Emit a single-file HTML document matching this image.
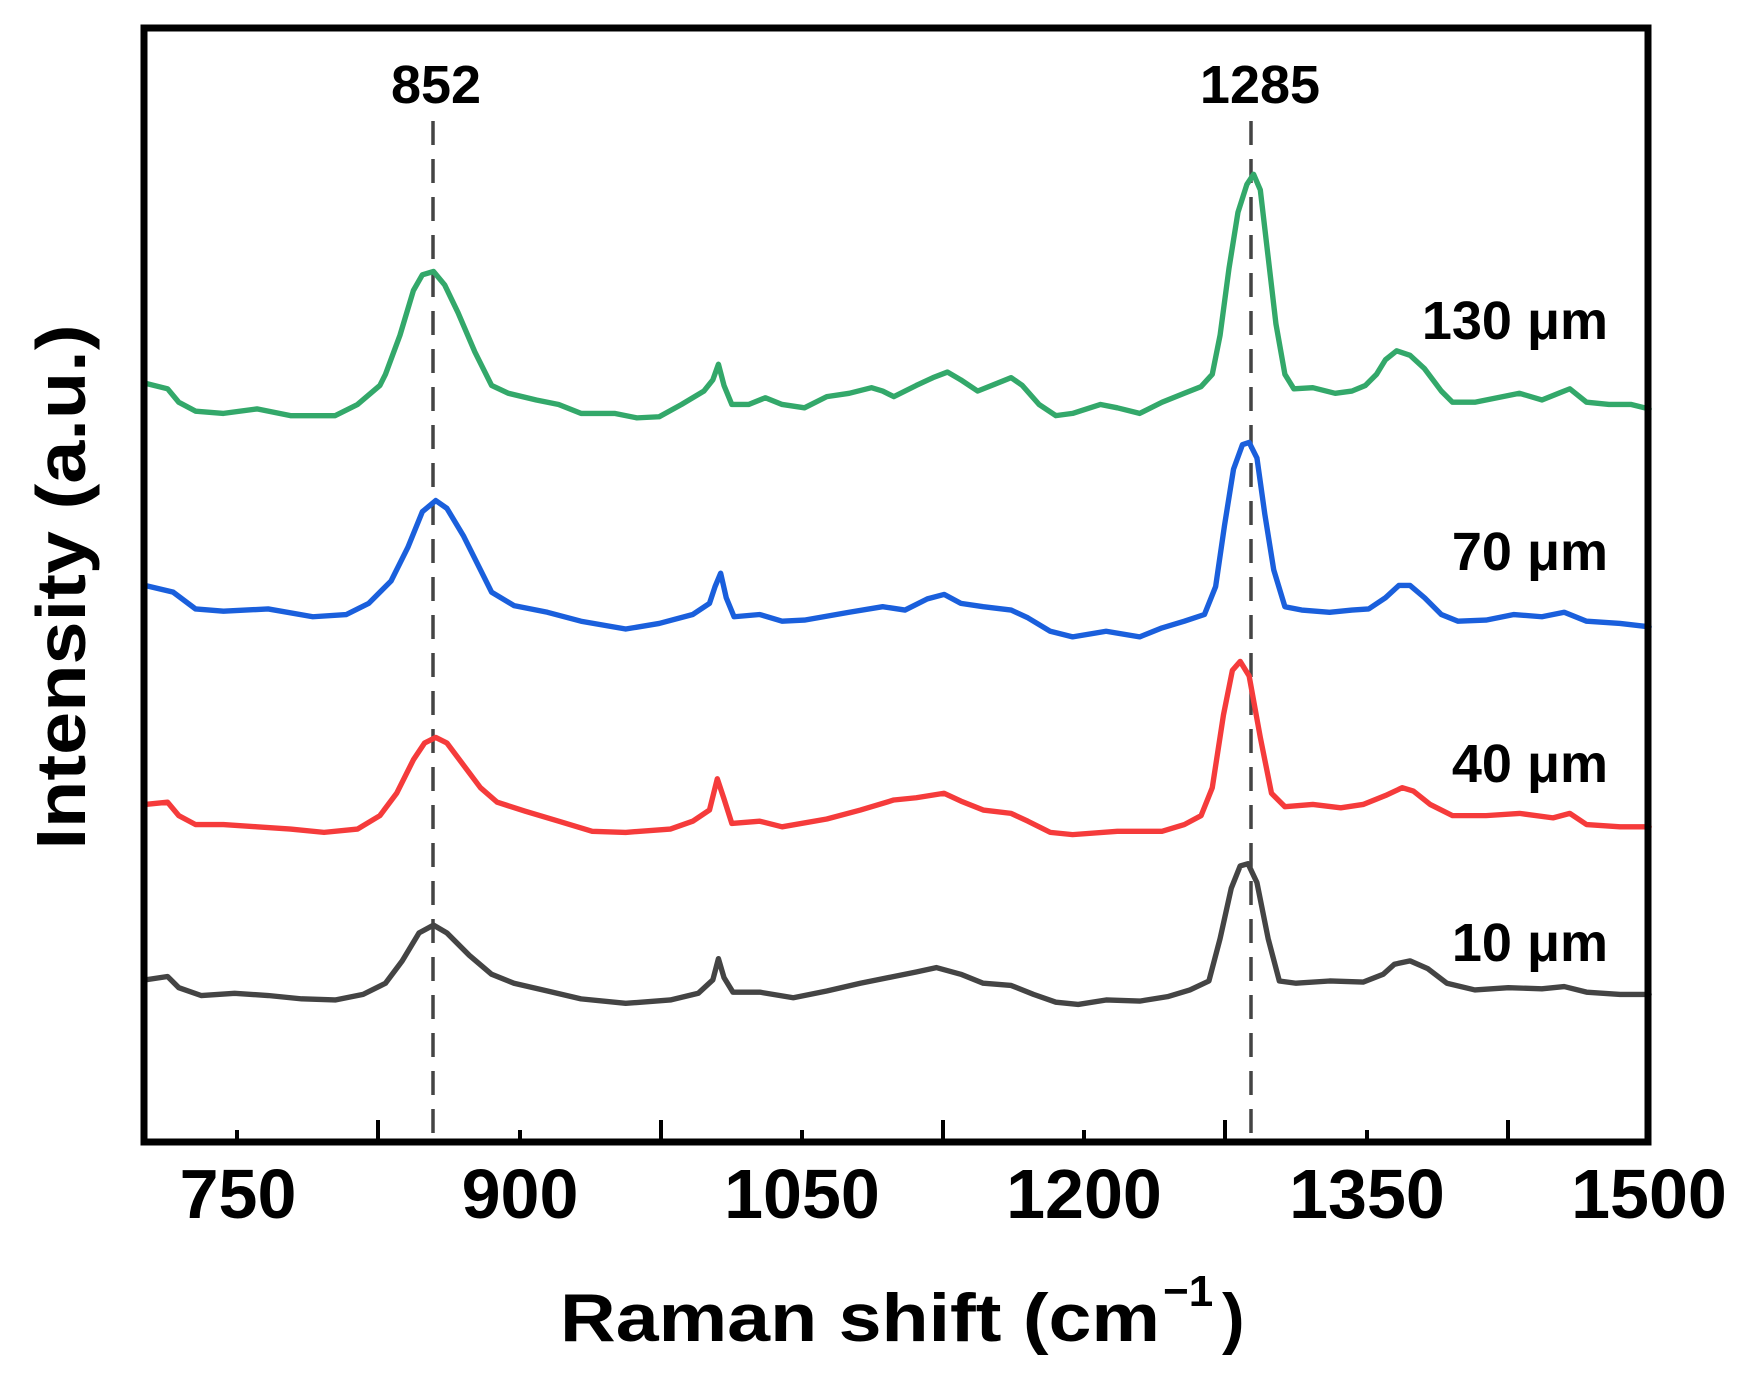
<!DOCTYPE html>
<html><head><meta charset="utf-8"><style>
html,body{margin:0;padding:0;background:#fff;}
svg{display:block;}
text{font-family:"Liberation Sans",Arial,sans-serif;font-weight:bold;fill:#000;}
</style></head><body>
<svg width="1752" height="1381" viewBox="0 0 1752 1381" xmlns="http://www.w3.org/2000/svg">
<rect width="1752" height="1381" fill="#fff"/>
<line x1="433" y1="121" x2="433" y2="1145" stroke="#444" stroke-width="3.5" stroke-dasharray="24,14"/>
<line x1="1251" y1="121" x2="1251" y2="1145" stroke="#444" stroke-width="3.5" stroke-dasharray="24,14"/>
<g transform="scale(1.1173)" fill="none" stroke-width="4.8" stroke-linejoin="round" stroke-linecap="round">
<polyline stroke="#33a86a" points="130,343 150,348 160,360 175,368 200,370 230,366 260,372 300,372 320,362 340,345 345,335 358,300 370,260 378,246 388,243 398,255 410,280 425,315 440,345 455,352 480,358 500,362 520,370 550,370 570,374 590,373 610,362 630,350 638,340 643,326 648,345 655,362 670,362 685,356 700,362 720,365 740,355 760,352 780,347 790,350 800,355 820,345 835,338 848,333 860,340 875,350 890,344 905,338 915,345 930,362 945,372 960,370 985,362 1000,365 1020,370 1040,360 1060,352 1075,346 1085,335 1092,300 1100,240 1108,190 1116,165 1122,156 1128,170 1135,230 1142,290 1150,335 1158,348 1175,347 1195,352 1210,350 1222,345 1232,335 1240,322 1250,314 1262,318 1275,330 1290,350 1300,360 1320,360 1340,356 1360,352 1380,358 1395,352 1405,348 1420,360 1440,362 1460,362 1476,366"/>
<polyline stroke="#1a5fdc" points="130,524 155,530 175,545 200,547 240,545 280,552 310,550 330,540 350,520 365,490 378,458 390,448 400,455 415,480 430,510 440,530 460,542 490,548 520,556 560,563 590,558 620,550 635,540 640,525 645,513 650,535 657,552 680,550 700,556 720,555 760,548 790,543 810,546 830,536 845,532 860,540 880,543 905,546 920,553 940,565 960,570 990,565 1020,570 1040,562 1060,556 1078,550 1088,525 1096,470 1104,420 1112,398 1118,396 1125,410 1132,460 1140,510 1150,543 1165,546 1190,548 1210,546 1225,545 1240,535 1252,524 1262,524 1275,535 1290,550 1305,556 1330,555 1355,550 1380,552 1400,548 1420,556 1450,558 1476,561"/>
<polyline stroke="#f53b3b" points="130,720 150,718 160,730 175,738 200,738 230,740 260,742 290,745 320,742 340,730 355,710 370,680 380,665 390,660 400,665 415,685 430,705 445,718 470,726 500,735 530,744 560,745 600,742 620,735 635,725 642,697 648,715 655,737 680,735 700,740 740,733 770,725 800,716 820,714 845,710 860,717 880,725 905,728 920,735 940,745 960,747 1000,744 1040,744 1060,738 1075,730 1085,705 1095,640 1103,600 1110,592 1118,605 1128,660 1138,710 1150,722 1175,720 1200,723 1220,720 1240,712 1255,705 1265,708 1280,720 1300,730 1330,730 1360,728 1390,732 1405,728 1420,738 1450,740 1476,740"/>
<polyline stroke="#444" points="130,877 150,874 160,884 180,891 210,889 240,891 270,894 300,895 325,890 345,880 360,860 375,835 388,828 400,835 420,855 440,872 460,880 490,887 520,894 560,898 600,895 625,889 638,877 643,858 648,875 656,888 680,888 710,893 740,887 770,880 800,874 820,870 838,866 860,872 880,880 905,882 925,890 945,897 965,899 990,895 1020,896 1045,892 1065,886 1082,878 1092,840 1102,795 1110,775 1117,773 1125,790 1135,840 1145,878 1160,880 1190,878 1220,879 1238,872 1248,863 1262,860 1278,867 1295,880 1320,886 1350,884 1380,885 1400,883 1420,888 1450,890 1476,890"/>
</g>
<rect x="144" y="28" width="1504" height="1114" fill="none" stroke="#000" stroke-width="7"/>
<g stroke="#000" stroke-width="4">
<line x1="237" y1="1141" x2="237" y2="1130"/>
<line x1="378" y1="1141" x2="378" y2="1120"/>
<line x1="520" y1="1141" x2="520" y2="1130"/>
<line x1="661" y1="1141" x2="661" y2="1120"/>
<line x1="802" y1="1141" x2="802" y2="1130"/>
<line x1="943" y1="1141" x2="943" y2="1120"/>
<line x1="1084" y1="1141" x2="1084" y2="1130"/>
<line x1="1225" y1="1141" x2="1225" y2="1120"/>
<line x1="1367" y1="1141" x2="1367" y2="1130"/>
<line x1="1508" y1="1141" x2="1508" y2="1120"/>
</g>
<g font-size="70" text-anchor="middle">
<text x="238" y="1218">750</text>
<text x="520" y="1218">900</text>
<text x="802" y="1218">1050</text>
<text x="1084" y="1218">1200</text>
<text x="1367" y="1218">1350</text>
<text x="1649" y="1218">1500</text>
</g>
<text x="560" y="1341" font-size="68" textLength="600" lengthAdjust="spacingAndGlyphs">Raman shift (cm</text>
<text x="1163" y="1306" font-size="44">−1</text>
<text x="1222" y="1341" font-size="68">)</text>
<text transform="translate(85,587) rotate(-90)" text-anchor="middle" font-size="70" textLength="525" lengthAdjust="spacingAndGlyphs">Intensity (a.u.)</text>
<g font-size="54" text-anchor="middle">
<text x="436" y="103">852</text>
<text x="1260" y="103">1285</text>
</g>
<g font-size="54" text-anchor="end">
<text x="1608" y="339">130 μm</text>
<text x="1608" y="570">70 μm</text>
<text x="1608" y="782">40 μm</text>
<text x="1608" y="961">10 μm</text>
</g>
</svg>
</body></html>
